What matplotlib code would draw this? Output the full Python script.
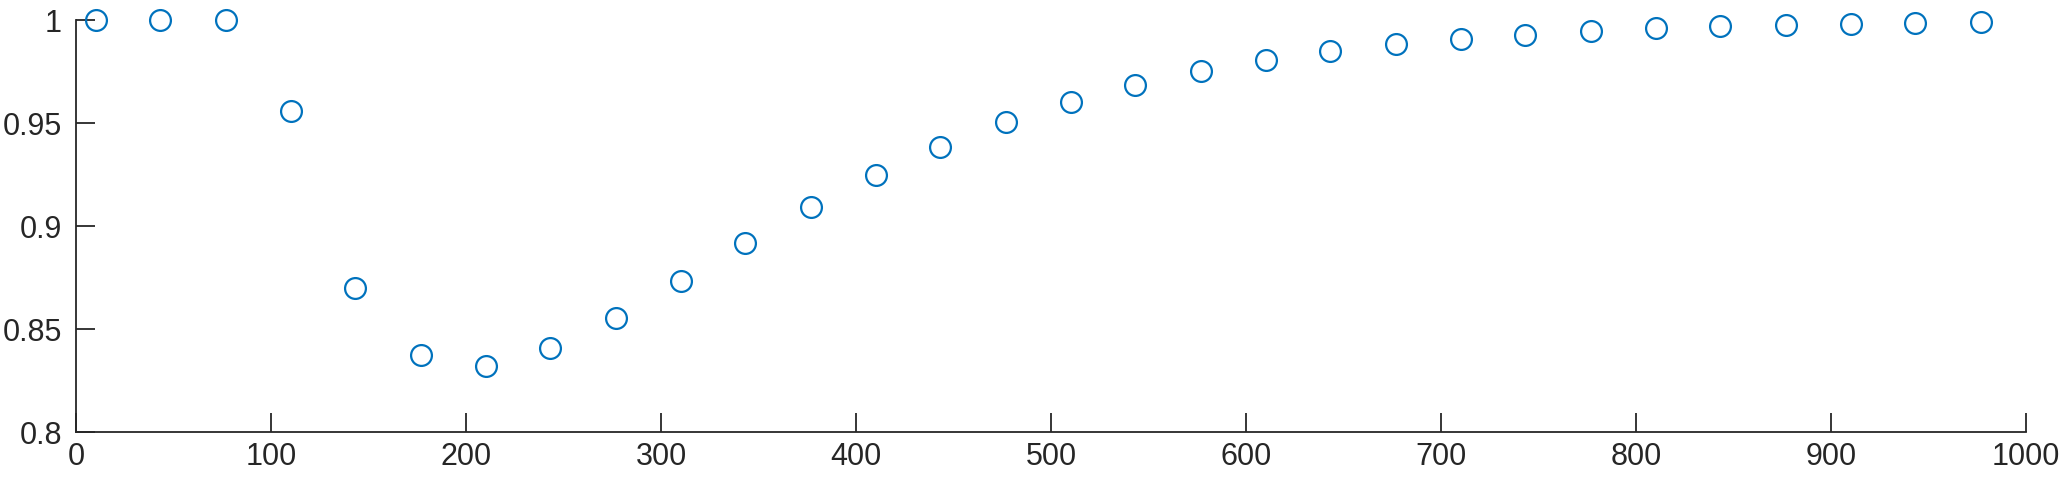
import matplotlib
matplotlib.use("Agg")
import matplotlib.pyplot as plt

x_values = [10, 43.3, 76.7, 110, 143.3, 176.7, 210, 243.3, 276.7, 310,
            343.3, 376.7, 410, 443.3, 476.7, 510, 543.3, 576.7, 610, 643.3,
            676.7, 710, 743.3, 776.7, 810, 843.3, 876.7, 910, 943.3, 976.7]
y_values = [1.0, 1.0, 1.0, 0.9558, 0.8699, 0.8374, 0.8320, 0.8408, 0.8555, 0.8733,
            0.8917, 0.9092, 0.9248, 0.9383, 0.9505, 0.9602, 0.9684, 0.9752, 0.9806, 0.9850,
            0.9883, 0.9910, 0.9929, 0.9947, 0.9961, 0.9971, 0.9976, 0.9981, 0.9985, 0.9988]
x_ticks = [0, 100, 200, 300, 400, 500, 600, 700, 800, 900, 1000]
y_ticks = [0.8, 0.85, 0.9, 0.95, 1.0]
y_tick_labels = ["0.8", "0.85", "0.9", "0.95", "1"]

plt.rcParams['font.family'] = ['Liberation Sans', 'DejaVu Sans']

fig = plt.figure(figsize=(20.67, 4.88), dpi=100)
ax = fig.add_axes([76/2067, 1-432/488, (2026-76)/2067, (432-20)/488])
ax.plot(x_values, y_values, linestyle='none', marker='o', markersize=15,
        markerfacecolor='none', markeredgecolor='#0072BD', markeredgewidth=1.6,
        clip_on=False)
ax.set_xlim(0, 1000)
ax.set_ylim(0.8, 1.0)
ax.set_xticks(x_ticks)
ax.set_xticklabels([str(t) for t in x_ticks])
ax.set_yticks(y_ticks)
ax.set_yticklabels(y_tick_labels)
for s in ['top', 'right']:
    ax.spines[s].set_visible(False)
for s in ['left', 'bottom']:
    ax.spines[s].set_color('#262626')
    ax.spines[s].set_linewidth(1.3)
ax.tick_params(direction='in', length=14, width=1.3, colors='#262626',
               labelsize=22, labelcolor='#262626')
ax.tick_params(axis='x', pad=7)
ax.tick_params(axis='y', pad=10)
fig.savefig("out.png", dpi=100)
